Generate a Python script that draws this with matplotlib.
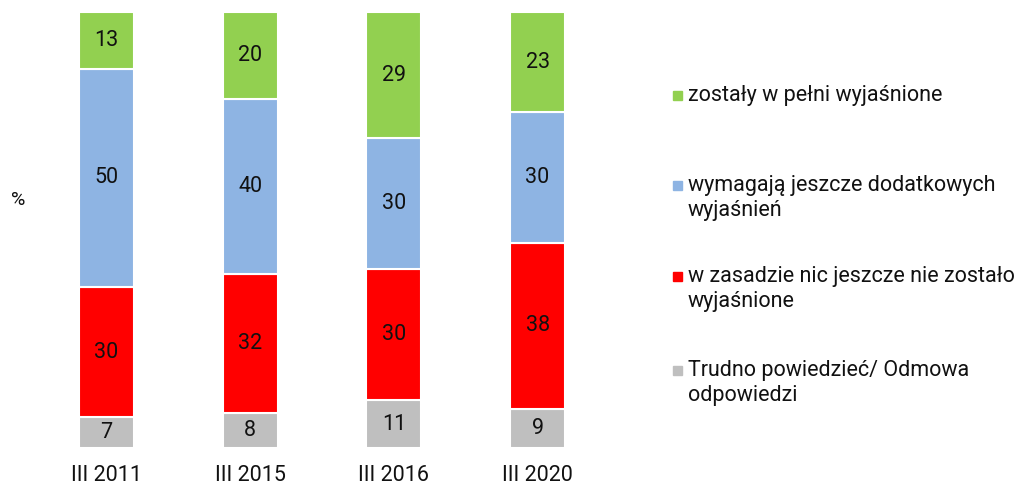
import numpy as np
import matplotlib.pyplot as plt
from matplotlib.patches import Rectangle

plt.rcParams['font.family'] = ['Roboto', 'DejaVu Sans']

years = ['III 2011', 'III 2015', 'III 2016', 'III 2020']
trudno = [7, 8, 11, 9]
nic = [30, 32, 30, 38]
wymagaja = [50, 40, 30, 30]
zostaly = [13, 20, 29, 23]

labels = ['zostały w pełni wyjaśnione',
          'wymagają jeszcze dodatkowych\nwyjaśnień',
          'w zasadzie nic jeszcze nie zostało\nwyjaśnione',
          'Trudno powiedzieć/ Odmowa\nodpowiedzi']
colors = ['#92D050', '#8EB4E3', '#FF0000', '#BFBFBF']

FS = 15.5
W, H = 1014, 484
fig = plt.figure(figsize=(W / 100, H / 100), dpi=100)
ax = fig.add_axes([34.5 / W, 36 / H, 575 / W, 436 / H])

x = np.arange(len(years))
series = [trudno, nic, wymagaja, zostaly]
series_colors = colors[::-1]
bottom = np.zeros(len(years))
for vals, col in zip(series, series_colors):
    vals = np.array(vals)
    ax.bar(x, vals, bottom=bottom, width=0.382, color=col,
           edgecolor='white', linewidth=1.5)
    for xi, b, v in zip(x, bottom, vals):
        ax.text(xi, b + v / 2, str(v), ha='center', va='center',
                fontsize=FS, color='#111111')
    bottom += vals

ax.set_xlim(-0.5, 3.5)
ax.set_ylim(0, 100)
ax.set_xticks(x)
ax.set_xticklabels(years, fontsize=FS, color='#111111')
ax.tick_params(axis='x', length=0, pad=12)
ax.set_yticks([])
for s in ax.spines.values():
    s.set_visible(False)

fig.text(18 / W, 1 - 200 / H, '%', fontsize=14, ha='center', va='center',
         color='#111111')

# legend drawn by hand
first_line_y = [95, 185, 276, 370]
for lab, col, yy in zip(labels, colors, first_line_y):
    fig.patches.append(Rectangle((673 / W, 1 - (yy + 4.5) / H), 9 / W, 9 / H,
                                 transform=fig.transFigure, color=col))
    fig.text(688 / W, 1 - (yy - 10) / H, lab, fontsize=FS, ha='left',
             va='top', linespacing=1.28, color='#111111')

fig.savefig('out.png', dpi=100)
